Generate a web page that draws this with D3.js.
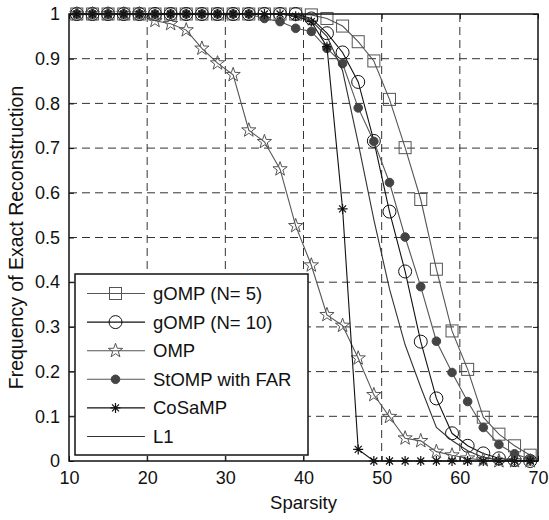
<!DOCTYPE html>
<html><head><meta charset="utf-8">
<script src="https://cdn.jsdelivr.net/npm/d3@7"></script>
<style>body{margin:0;background:#fff}svg{display:block;font-family:"Liberation Sans",Arial,Helvetica,sans-serif}</style>
</head><body><svg id="c" width="549" height="520"></svg>
<script>
const sparsity = [11,13,15,17,19,21,23,25,27,29,31,33,35,37,39,41,43,45,47,49,51,53,55,57,59,61,63,65,67,69];
const gomp5  = [1,1,1,1,1,1,1,1,1,1,1,1,1,1,1, 0.998,0.99,0.973,0.938,0.895,0.809,0.701,0.585,0.429,0.291,0.205,0.098,0.060,0.034,0.013];
const gomp10 = [1,1,1,1,1,1,1,1,1,1,1,1,1,1,1, 0.99,0.957,0.914,0.848,0.716,0.558,0.424,0.267,0.140,0.062,0.034,0.017,0.006,0.002,0];
const omp    = [1,1,1,1,1, 0.985,0.978,0.964,0.923,0.890,0.864,0.740,0.714,0.653,0.526,0.438,0.327,0.303,0.230,0.148,0.099,0.051,0.045,0.021,0.013,0.006,0.002,0,0,0];
const stomp  = [1,1,1,1,1,1,1,1,1,1,1,1, 0.990,0.983,0.968,0.961,0.923,0.889,0.790,0.715,0.623,0.501,0.390,0.268,0.198,0.133,0.075,0.037,0.016,0.004];
const cosamp = [1,1,1,1,1,1,1,1,1,1,1,1,1,1,0.995, 0.983,0.927,0.564,0.026,0,0,0,0,0,0,0,0,0,0,0];
const l1     = [1,1,1,1,1,1,1,1,1,1,1,1,1,1,1, 0.985,0.95,0.873,0.711,0.54,0.385,0.26,0.165,0.075,0.046,0.023,0.008,0.002,0,0];
const seriesNames = ["gOMP (N= 5)","gOMP (N= 10)","OMP","StOMP with FAR","CoSaMP","L1"];
const xTicks = [10,20,30,40,50,60,70];
const yTicks = [0,0.1,0.2,0.3,0.4,0.5,0.6,0.7,0.8,0.9,1];
const xLabel = "Sparsity";
const yLabel = "Frequency of Exact Reconstruction";

const series = [
  {name:seriesNames[0], v:gomp5,  line:"#555", mk:"square", mstroke:"#555", fill:"none"},
  {name:seriesNames[1], v:gomp10, line:"#111", mk:"circle", mstroke:"#111", fill:"none"},
  {name:seriesNames[2], v:omp,    line:"#555", mk:"star",   mstroke:"#555", fill:"none"},
  {name:seriesNames[3], v:stomp,  line:"#555", mk:"dot",    mstroke:"#444", fill:"#444"},
  {name:seriesNames[4], v:cosamp, line:"#111", mk:"aster",  mstroke:"#111", fill:"none"},
  {name:seriesNames[5], v:l1,     line:"#333", mk:null}
];

const L=69, R=538, T=14, B=461;
const x = d3.scaleLinear().domain([10,70]).range([L,R]);
const y = d3.scaleLinear().domain([0,1]).range([B,T]);
const svg = d3.select("#c");

// grid
const g = svg.append("g");
g.selectAll("line.gx").data(xTicks.slice(1,-1)).join("line")
  .attr("x1",d=>x(d)).attr("x2",d=>x(d)).attr("y1",T).attr("y2",B)
  .attr("stroke","#333").attr("stroke-width",1).attr("stroke-dasharray","8,5");
g.selectAll("line.gy").data(yTicks.slice(1,-1)).join("line")
  .attr("y1",d=>y(d)).attr("y2",d=>y(d)).attr("x1",L).attr("x2",R)
  .attr("stroke","#333").attr("stroke-width",1).attr("stroke-dasharray","8,5");

// axes with inner ticks
const fmt = d => d===0?"0":(d===1?"1":String(d));
svg.append("g").attr("transform",`translate(0,${B})`)
  .call(d3.axisBottom(x).tickValues(xTicks).tickSizeInner(-5).tickSizeOuter(0).tickPadding(10))
  .call(a=>{a.select(".domain").remove();a.selectAll("text").attr("font-size",18).attr("fill","#111").attr("font-family","Liberation Sans, Arial");});
svg.append("g").attr("transform",`translate(0,${T})`)
  .call(d3.axisTop(x).tickValues(xTicks).tickSizeInner(-5).tickSizeOuter(0).tickFormat(""))
  .call(a=>a.select(".domain").remove());
svg.append("g").attr("transform",`translate(${L},0)`)
  .call(d3.axisLeft(y).tickValues(yTicks).tickSizeInner(-5).tickSizeOuter(0).tickPadding(9).tickFormat(fmt))
  .call(a=>{a.select(".domain").remove();a.selectAll("text").attr("font-size",18).attr("fill","#111").attr("font-family","Liberation Sans, Arial");});
svg.append("g").attr("transform",`translate(${R},0)`)
  .call(d3.axisRight(y).tickValues(yTicks).tickSizeInner(-5).tickSizeOuter(0).tickFormat(""))
  .call(a=>a.select(".domain").remove());
svg.selectAll(".tick line").attr("stroke","#111");

// markers
function starPath(ro){const ri=ro*0.4;let p="";for(let i=0;i<10;i++){const r=i%2?ri:ro;const a=-Math.PI/2+i*Math.PI/5;p+=(i?"L":"M")+(r*Math.cos(a)).toFixed(2)+","+(r*Math.sin(a)).toFixed(2);}return p+"Z";}
function drawMarker(sel,mk,s){
  if(mk==="square") sel.append("rect").attr("x",-6).attr("y",-6).attr("width",12).attr("height",12).attr("fill","none").attr("stroke",s.mstroke).attr("stroke-width",1);
  else if(mk==="circle") sel.append("circle").attr("r",6.5).attr("fill","none").attr("stroke",s.mstroke).attr("stroke-width",1);
  else if(mk==="star") sel.append("path").attr("d",starPath(7.5)).attr("fill","none").attr("stroke",s.mstroke).attr("stroke-width",1);
  else if(mk==="dot") sel.append("circle").attr("r",4.3).attr("fill",s.fill).attr("stroke",s.mstroke);
  else if(mk==="aster") sel.append("path").attr("d","M-5,0L5,0M0,-5L0,5M-3.5,-3.5L3.5,3.5M-3.5,3.5L3.5,-3.5").attr("fill","none").attr("stroke",s.mstroke).attr("stroke-width",1.2);
}

const line = d3.line().x((d,i)=>x(sparsity[i])).y(d=>y(d));
const plot = svg.append("g");
series.forEach(s=>{
  plot.append("path").attr("d",line(s.v)).attr("fill","none").attr("stroke",s.line).attr("stroke-width",1.1);
  if(s.mk){
    plot.selectAll(null).data(s.v).join("g")
      .attr("transform",(d,i)=>`translate(${x(sparsity[i])},${y(d)})`)
      .each(function(){drawMarker(d3.select(this),s.mk,s);});
  }
});

// box
svg.append("rect").attr("x",L).attr("y",T).attr("width",R-L).attr("height",B-T)
  .attr("fill","none").attr("stroke","#111").attr("stroke-width",1.5);

// labels
svg.append("text").attr("x",(L+R)/2).attr("y",509).attr("text-anchor","middle")
  .attr("font-size",18.5).attr("fill","#111").text(xLabel);
svg.append("text").attr("transform",`translate(23,${(T+B)/2}) rotate(-90)`).attr("text-anchor","middle")
  .attr("font-size",19.5).attr("fill","#111").text(yLabel);

// legend
const lg = svg.append("g");
lg.append("rect").attr("x",75).attr("y",274).attr("width",233).attr("height",181)
  .attr("fill","#fff").attr("stroke","#111").attr("stroke-width",1.5);
series.forEach((s,i)=>{
  const cy = 293.5 + i*28.6;
  lg.append("line").attr("x1",87).attr("x2",145).attr("y1",cy).attr("y2",cy).attr("stroke",s.line).attr("stroke-width",1.1);
  if(s.mk){ const m = lg.append("g").attr("transform",`translate(115.5,${cy})`); drawMarker(m,s.mk,s); }
  lg.append("text").attr("x",153).attr("y",cy).attr("dy","0.35em").attr("font-size",18.5).attr("fill","#111").text(s.name);
});
</script></body></html>
